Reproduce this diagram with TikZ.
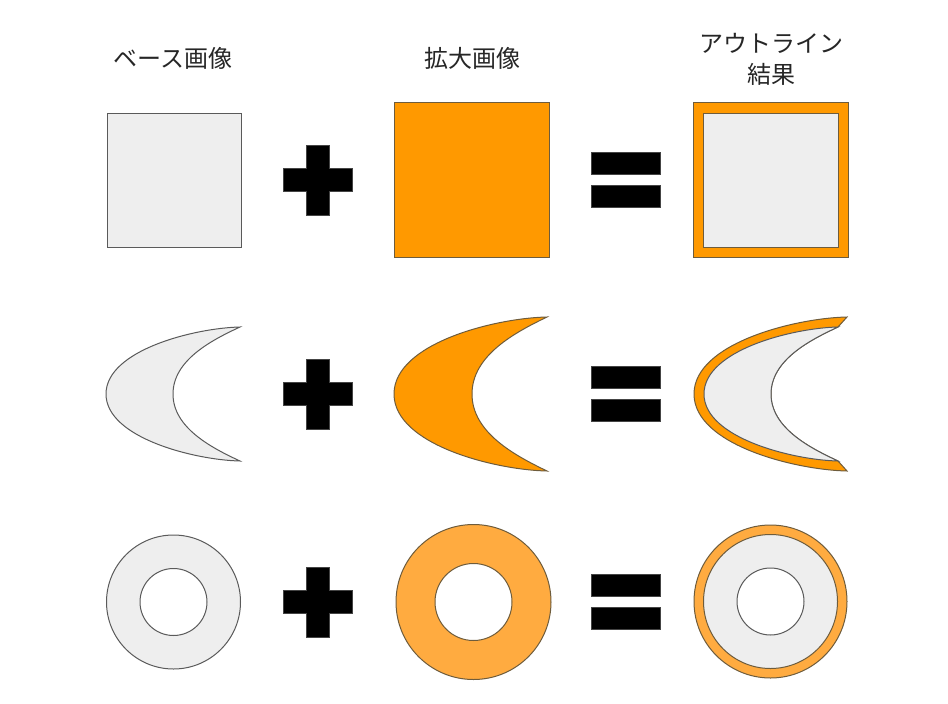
\documentclass[tikz,border=0pt]{standalone}
\usepackage{fontspec}
\newfontfamily\jpfont{Noto Sans CJK JP}
\definecolor{greyfill}{HTML}{EEEEEE}
\definecolor{greyline}{HTML}{5A5A5A}
\definecolor{orangeA}{HTML}{FF9900}
\definecolor{orangeB}{HTML}{FFAB40}
\definecolor{orangeline}{HTML}{6E5C3C}
\definecolor{signline}{HTML}{444444}
\begin{document}
\begin{tikzpicture}[x=1pt,y=-1pt,
  lbl/.style={font=\jpfont\fontsize{24}{31}\selectfont, text=black!85, align=center, inner sep=0pt},
  greyshape/.style={fill=greyfill, draw=greyline, line width=1pt},
  orangeshapeA/.style={fill=orangeA, draw=orangeline, line width=1pt},
  orangeshapeB/.style={fill=orangeB, draw=orangeline, line width=1pt},
  signshape/.style={fill=black, draw=signline, line width=0.6pt}]
\useasboundingbox (0,0) rectangle (948,704);

% headers
\node[lbl] (t1) at (173,58) {ベース画像};
\node[lbl] (t2) at (472,58) {拡大画像};
\node[lbl] (t3) at (771,59) {アウトライン\\結果};

% plus and equals signs
\foreach \cy in {180,394,602}{
  \draw[signshape] (306.5,\cy-35) -- (329.5,\cy-35) -- (329.5,\cy-11.5) -- (352.5,\cy-11.5)
    -- (352.5,\cy+11.5) -- (329.5,\cy+11.5) -- (329.5,\cy+35) -- (306.5,\cy+35)
    -- (306.5,\cy+11.5) -- (283.5,\cy+11.5) -- (283.5,\cy-11.5) -- (306.5,\cy-11.5) -- cycle;
  \draw[signshape] (591.5,\cy-27.5) rectangle (660.5,\cy-5.5);
  \draw[signshape] (591.5,\cy+5.5) rectangle (660.5,\cy+27.5);
}

% row 1: squares
\draw[greyshape] (107,113) rectangle (241,247);
\draw[orangeshapeA] (394,102) rectangle (549,257);
\draw[orangeshapeA] (693,102) rectangle (848,257);
\draw[greyshape, draw=orangeline] (703,113) rectangle (838,247);

% row 2: crescents
\draw[greyshape] (240,327) .. controls (195,328) and (106,350) .. (106,394)
  .. controls (106,438) and (195,460) .. (240,461)
  .. controls (212,448) and (173,428) .. (173,394)
  .. controls (173,360) and (212,340) .. (240,327) -- cycle;
\draw[orangeshapeA] (547,317) .. controls (496,318) and (394,343) .. (394,394)
  .. controls (394,445) and (496,470) .. (547,471)
  .. controls (516,456) and (472,433) .. (472,394)
  .. controls (472,355) and (516,332) .. (547,317) -- cycle;
\draw[orangeshapeA] (847,317) .. controls (796,318) and (694,343) .. (694,394)
  .. controls (694,445) and (796,470) .. (847,471) -- (838,461)
  .. controls (810,448) and (771,428) .. (771,394)
  .. controls (771,360) and (810,340) .. (838,327) -- cycle;
\draw[greyshape] (838,327) .. controls (793,328) and (704,350) .. (704,394)
  .. controls (704,438) and (793,460) .. (838,461)
  .. controls (810,448) and (771,428) .. (771,394)
  .. controls (771,360) and (810,340) .. (838,327) -- cycle;

% row 3: rings
\draw[greyshape, even odd rule] (173.5,602) circle[radius=67] (173.5,602) circle[radius=33.5];
\draw[orangeshapeB, even odd rule] (473.5,602) circle[radius=77.5] (473.5,602) circle[radius=38.5];
\draw[orangeshapeB] (770.5,601.5) circle[radius=76.5];
\draw[greyshape, draw=orangeline, even odd rule] (770.5,601.5) circle[radius=67];
\draw[greyshape, fill=white] (770.5,601.5) circle[radius=33.5];
\end{tikzpicture}
\end{document}
